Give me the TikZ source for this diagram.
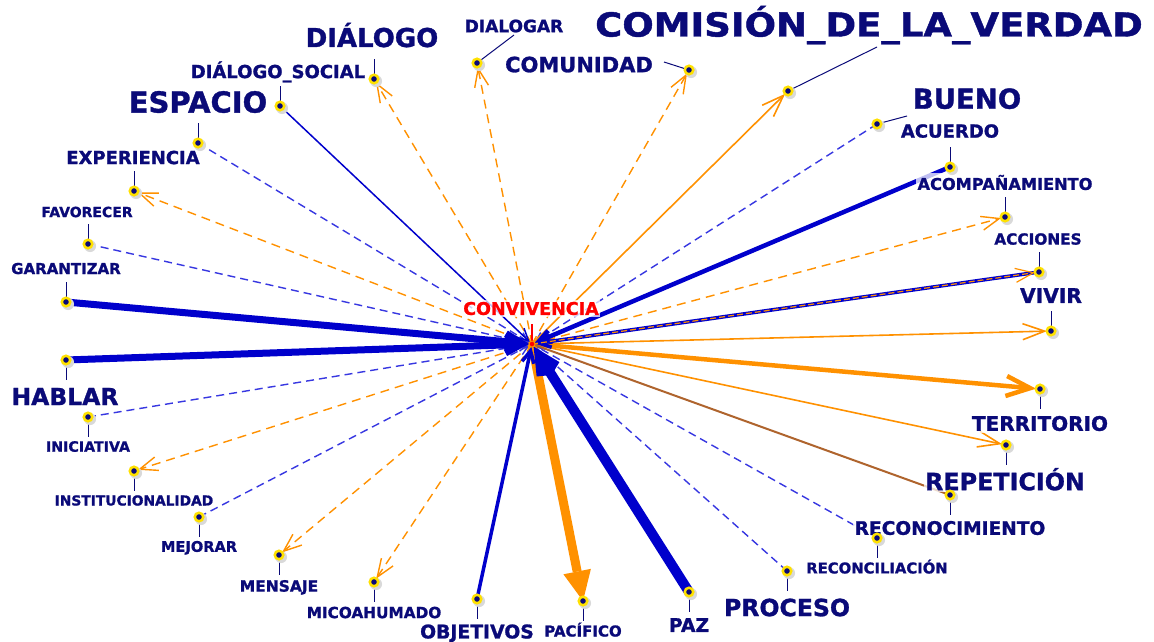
\documentclass[tikz,border=0pt]{standalone}
\usepackage{fontspec}
\setmainfont{DejaVu Sans}[BoldFeatures={FakeBold=1.2}]
\usetikzlibrary{arrows.meta,shadows}
\definecolor{navy}{RGB}{10,10,120}
\definecolor{bl}{RGB}{0,0,204}
\definecolor{bld}{RGB}{55,55,225}
\definecolor{org}{RGB}{255,145,0}
\definecolor{brn}{RGB}{175,100,45}
\definecolor{dotyel}{RGB}{255,225,0}
\begin{document}
\begin{tikzpicture}[x=1pt,y=-1pt,
  lab/.style={font=\bfseries\fontsize{#1}{#1}\selectfont, text=navy, anchor=base,
    inner sep=1.5pt, fill=white, fill opacity=0.75, text opacity=1},
  dotn/.style={circle, fill=navy, draw=dotyel, line width=2.5pt, minimum size=8.5pt, inner sep=0pt,
    general shadow={fill=black!15, shadow scale=1.4, shadow xshift=1.5pt, shadow yshift=-1.5pt}},
  tick/.style={draw=navy, line width=1pt},
  bdash/.style={draw=bld, line width=1.4pt, dash pattern=on 8pt off 5pt,
    -{Straight Barb[length=9pt,width=10pt]}, shorten >=3pt},
  bsol/.style={draw=bl, -{Straight Barb[length=12pt,width=12pt]}, shorten >=3pt},
  odash/.style={draw=org, line width=1.4pt, dash pattern=on 9pt off 6pt,
    -{Straight Barb[length=18pt,width=14pt]}, shorten >=4pt},
  osol/.style={draw=org, line width=1.6pt, -{Straight Barb[length=22pt,width=16pt]}, shorten >=4pt}
]
\useasboundingbox[fill=white] (0,0) rectangle (1154,642);

% centre
\coordinate (c) at (532,344);
% dots (positions)
\coordinate (pDGR) at (477,63);
\coordinate (pDLG) at (374,79);
\coordinate (pDSO) at (280,106);
\coordinate (pESP) at (198,143);
\coordinate (pEXP) at (134,191);
\coordinate (pFAV) at (88,244);
\coordinate (pGAR) at (66,302);
\coordinate (pHAB) at (66,360);
\coordinate (pINI) at (88,417);
\coordinate (pINS) at (134,471);
\coordinate (pMEJ) at (199,517);
\coordinate (pMEN) at (279,555);
\coordinate (pMIC) at (374,582);
\coordinate (pOBJ) at (477,599);
\coordinate (pPAC) at (583,601);
\coordinate (pPAZ) at (689,592);
\coordinate (pPRO) at (787,571);
\coordinate (pRCL) at (877,538);
\coordinate (pRCN) at (950,495);
\coordinate (pREP) at (1006,445);
\coordinate (pTER) at (1040,389);
\coordinate (pVIV) at (1051,331);
\coordinate (pACC) at (1039,272);
\coordinate (pACO) at (1005,217);
\coordinate (pACU) at (950,167);
\coordinate (pBUE) at (877,124);
\coordinate (pCOM) at (788,91);
\coordinate (pCMU) at (689,70);

% ---------- connectors ----------
% orange dashed (outgoing)
\draw[odash] (c) -- (pDGR);
\draw[odash] (c) -- (pDLG);
\draw[odash] (c) -- (pEXP);
\draw[odash] (c) -- (pINS);
\draw[odash] (c) -- (pMEN);
\draw[odash] (c) -- (pMIC);
\draw[odash] (c) -- (pACO);
\draw[odash] (c) -- (pCMU);
% blue dashed (incoming)
\draw[bdash] (pESP) -- (c);
\draw[bdash] (pFAV) -- (c);
\draw[bdash] (pINI) -- (c);
\draw[bdash] (pMEJ) -- (c);
\draw[bdash] (pPRO) -- (c);
\draw[bdash] (pRCL) -- (c);
\draw[bdash] (pBUE) -- (c);
% orange solid
\draw[osol] (c) -- (pCOM);
\draw[osol] (c) -- (pVIV);
\draw[osol] (c) -- (pREP);
\draw[osol, line width=4.5pt, -{Straight Barb[length=24pt,width=20pt]}] (c) -- (pTER);
\draw[draw=org, line width=9pt, -{Triangle[length=30pt,width=28pt,line width=0pt]}, shorten >=0pt] (c) -- (pPAC);
% brown
\draw[draw=brn, line width=2pt] (c) -- (pRCN);
% blue solid
\draw[bsol, line width=1.5pt] (pDSO) -- (c);
\draw[bsol, line width=7pt, -{Straight Barb[length=16pt,width=16pt]}] (pGAR) -- (c);
\draw[bsol, line width=7pt, -{Straight Barb[length=16pt,width=16pt]}] (pHAB) -- (c);
\draw[bsol, line width=3.5pt] (pOBJ) -- (c);
\draw[bsol, line width=10pt, -{Straight Barb[length=18pt,width=18pt]}] (pPAZ) -- (c);
\draw[bsol, line width=4.5pt] (pACU) -- (c);
% acciones (double)
\draw[bsol, line width=3.6pt] (pACC) -- (c);
\draw[draw=org, line width=1.2pt, dash pattern=on 6pt off 3pt, -{Straight Barb[length=18pt,width=14pt]}, shorten >=4pt] (c) -- (pACC);

% ---------- labels ----------
\node[lab=17.5, text=red] (lCON) at (531,314.9) {CONVIVENCIA};
\node[lab=33] (lCOM) at (869,36.5) {\scalebox{1.12}[1]{COMISIÓN\_DE\_LA\_VERDAD}};
\node[lab=17] (lDGR) at (514,32.2) {DIALOGAR};
\node[lab=21] (lCMU) at (579,72.2) {COMUNIDAD};
\node[lab=26] (lDLG) at (372,47) {DIÁLOGO};
\node[lab=18] (lDSO) at (278,78.1) {DIÁLOGO\_SOCIAL};
\node[lab=29] (lESP) at (198,112.6) {ESPACIO};
\node[lab=18] (lEXP) at (133,164.1) {EXPERIENCIA};
\node[lab=14] (lFAV) at (87,217.1) {FAVORECER};
\node[lab=15] (lGAR) at (66,274) {GARANTIZAR};
\node[lab=23.5] (lHAB) at (65,405.1) {HABLAR};
\node[lab=14.2] (lINI) at (88,451.7) {INICIATIVA};
\node[lab=13.8] (lINS) at (134,505.5) {INSTITUCIONALIDAD};
\node[lab=14.6] (lMEJ) at (199,551.8) {MEJORAR};
\node[lab=15.5] (lMEN) at (279,591.6) {MENSAJE};
\node[lab=15.3] (lMIC) at (374,618.1) {MICOAHUMADO};
\node[lab=18.8] (lOBJ) at (477,638.4) {OBJETIVOS};
\node[lab=15] (lPAC) at (583,636.5) {PACÍFICO};
\node[lab=18.8] (lPAZ) at (689,631.9) {PAZ};
\node[lab=23.6] (lPRO) at (787,616.1) {PROCESO};
\node[lab=14.8] (lRCL) at (877,573.4) {RECONCILIACIÓN};
\node[lab=18.6] (lRCN) at (950,534.8) {RECONOCIMIENTO};
\node[lab=23.8] (lREP) at (1005,490.2) {REPETICIÓN};
\node[lab=20] (lTER) at (1040,430.8) {TERRITORIO};
\node[lab=20.2] (lVIV) at (1051,302.9) {VIVIR};
\node[lab=15.3] (lACC) at (1038,244.6) {ACCIONES};
\node[lab=16.2] (lACO) at (1005,189.9) {ACOMPAÑAMIENTO};
\node[lab=18] (lACU) at (950,137.6) {ACUERDO};
\node[lab=27.5] (lBUE) at (967,108.7) {BUENO};

% ---------- leaders ----------
\coordinate (kBUE) at (907,116);
\coordinate (kCOM) at (877,47);
\coordinate (kCMU) at (664,62);
\coordinate (kDGR) at (514,35);
\draw[tick] (pBUE) -- (kBUE);
\draw[tick] (pCOM) -- (kCOM);
\draw[tick] (pCMU) -- (kCMU);
\draw[tick] (pDGR) -- (kDGR);
\foreach \p in {DLG,DSO,ESP,EXP,FAV,GAR,VIV,ACC,ACO,ACU}
  \draw[tick] (p\p) -- ++(0,-20);
\foreach \p in {HAB,INI,INS,MEJ,MEN,MIC,OBJ,PAC,PAZ,PRO,RCL,RCN,REP,TER}
  \draw[tick] (p\p) -- ++(0,20);
\draw[draw=red, line width=1.2pt] (c) -- ++(0,-20);

% ---------- dots ----------
\foreach \p in {DGR,DLG,DSO,ESP,EXP,FAV,GAR,HAB,INI,INS,MEJ,MEN,MIC,OBJ,PAC,PAZ,PRO,RCL,RCN,REP,TER,VIV,ACC,ACO,ACU,BUE,COM,CMU}
  \node[dotn] (d\p) at (p\p) {};
\node[circle, fill=red, draw=org, line width=1pt, minimum size=6pt, inner sep=0pt] (dc) at (c) {};
\end{tikzpicture}
\end{document}
